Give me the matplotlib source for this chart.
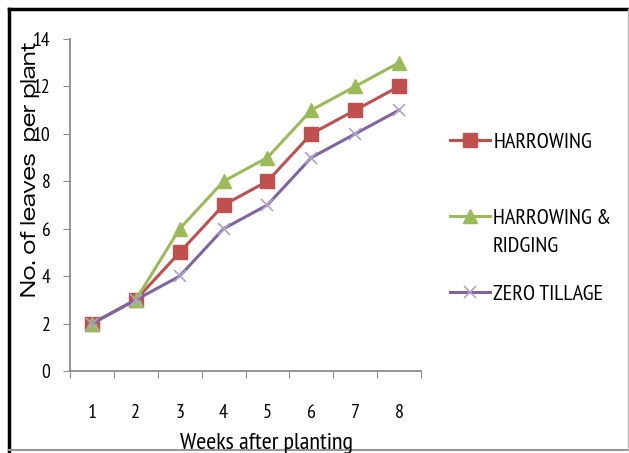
import matplotlib.pyplot as plt
from matplotlib.lines import Line2D

weeks = [1, 2, 3, 4, 5, 6, 7, 8]
harrowing = [2, 3, 5, 7, 8, 10, 11, 12]
harrow_ridge = [2, 3, 6, 8, 9, 11, 12, 13]
zero_till = [2, 3, 4, 6, 7, 9, 10, 11]
labels = ['HARROWING', 'HARROWING &', 'ZERO TILLAGE']

narrow = ['PT Sans Narrow', 'Liberation Sans']

fig = plt.figure(figsize=(6.29, 4.53), dpi=100)
ax = fig.add_axes([70 / 629, 1 - 371 / 453, 351 / 629, 332 / 453])

ax.plot(weeks, harrowing, color='#C0504D', lw=2.2, marker='s', ms=9.5, label=labels[0])
ax.plot(weeks, harrow_ridge, color='#9BBB59', lw=2.2, marker='^', ms=10, label=labels[1])
ax.plot(weeks, zero_till, color='#8064A2', lw=2.2, marker='x', ms=9,
        mec='#B0A4CC', mew=1.2, label=labels[2])

ax.set_xlim(0.5, 8.5)
ax.set_ylim(0, 14)
ax.set_yticks(range(0, 15, 2))
ax.set_xticks([x + 0.5 for x in range(0, 9)])
ax.set_xticklabels([])
ax.set_xticks(weeks, minor=True)
ax.set_xticklabels([str(w) for w in weeks], minor=True, family=narrow, fontsize=14.5)
ax.tick_params(axis='x', which='major', direction='out', length=5, color='#8C8C8C')
ax.tick_params(axis='x', which='minor', length=0, pad=24)
ax.tick_params(axis='y', direction='out', length=5, color='#8C8C8C', pad=9)
for lab in ax.get_yticklabels():
    lab.set_family(narrow)
    lab.set_fontsize(14)

for s in ['top', 'right']:
    ax.spines[s].set_visible(False)
for s in ['left', 'bottom']:
    ax.spines[s].set_color('#8C8C8C')
    ax.spines[s].set_linewidth(1.3)

fig.text(30 / 629, 1 - 169 / 453, 'No. of leaves  per plant', rotation=90,
         ha='center', va='center', fontsize=14.5, family='Zalando Sans Expanded')
fig.text(267 / 629, 1 - 443 / 453, 'Weeks after planting', ha='center', va='center',
         fontsize=17.5, family=narrow)

leg = fig.legend(loc='upper left', bbox_to_anchor=(450 / 629, 1 - 132 / 453),
                 frameon=False, prop={'family': narrow, 'size': 16},
                 borderpad=0, borderaxespad=0, handlelength=1.8, handletextpad=0.15,
                 labelspacing=2.55)
fig.text(493 / 629, 1 - 247 / 453, 'RIDGING', ha='left', va='center',
         fontsize=16, family=narrow)

# outer frame
fig.add_artist(Line2D([9 / 629, 1], [1 - 9 / 453] * 2, color='black', lw=2.5))
fig.add_artist(Line2D([9 / 629] * 2, [0, 1 - 9 / 453], color='black', lw=2.5))
fig.add_artist(Line2D([9 / 629, 1], [1 - 450 / 453] * 2, color='#999999', lw=1.5))
fig.add_artist(Line2D([628 / 629] * 2, [1 - 450 / 453, 1 - 9 / 453], color='#BBBBBB', lw=1))

fig.savefig('out.png', dpi=100)
